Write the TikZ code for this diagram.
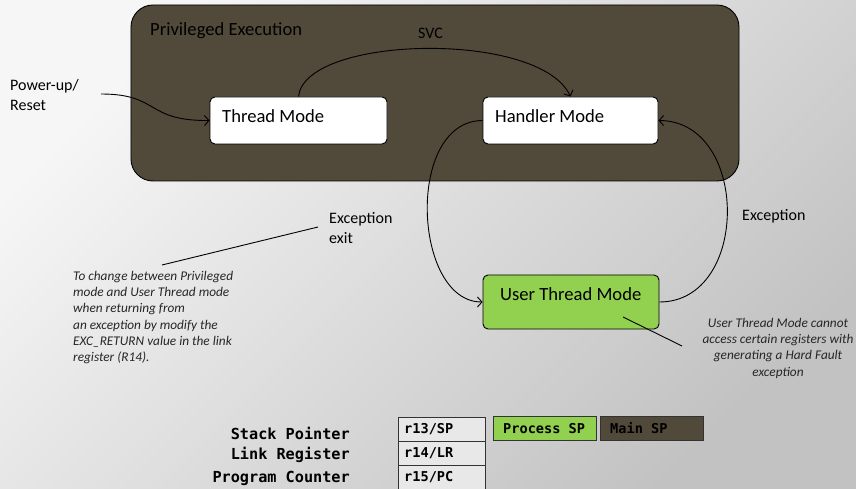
\documentclass[tikz,border=0pt]{standalone}
\usepackage{fontspec}
\setmainfont{Carlito}
\newfontfamily\regmono{DejaVu Sans Mono}
\usetikzlibrary{arrows.meta}

\definecolor{bgtop}{HTML}{F6F6F6}
\definecolor{bgbot}{HTML}{C2C2C2}
\definecolor{privfill}{HTML}{514A3A}
\definecolor{usergreen}{HTML}{92D050}
\definecolor{regfill}{HTML}{E8E8E8}

\tikzset{
  modebox/.style={draw=black, line width=0.9bp, rounded corners=5bp, fill=white, inner sep=0pt},
  modetext/.style={font=\fontsize{18.6bp}{22bp}\selectfont, inner sep=0pt, text=black},
  plaintext/.style={font=\fontsize{16bp}{19.5bp}\selectfont, inner sep=0pt, text=black},
  notetext/.style={font=\fontsize{13.3bp}{16.2bp}\selectfont\itshape, inner sep=0pt, text=black!85},
  conn/.style={draw=black, line width=0.9bp, -{Straight Barb[length=4.5bp,width=10bp]}},
  pointer/.style={draw=black, line width=0.9bp},
  reglabel/.style={font=\fontsize{15.2bp}{18bp}\selectfont\regmono\bfseries, inner sep=0pt, text=black},
  regbox/.style={draw=black!80, line width=0.9bp, fill=regfill, inner sep=0pt, minimum width=87bp, minimum height=24bp},
  regtext/.style={font=\fontsize{13.6bp}{16bp}\selectfont\regmono\bfseries, inner sep=0pt, text=black},
  spbox/.style={draw=black!80, line width=0.9bp, inner sep=0pt, minimum width=103bp, minimum height=24bp},
}

\begin{document}
\begin{tikzpicture}[x=1bp,y=-1bp]
  % canvas with a soft diagonal gradient
  \useasboundingbox (0,0) rectangle (856,489);
  \shade[top color=bgtop, bottom color=bgbot, shading angle=45] (0,0) rectangle (856,489);

  % privileged execution region
  \node[draw=black, line width=0.9bp, fill=privfill, rounded corners=22bp,
        minimum width=608bp, minimum height=176bp, inner sep=0pt] (priv) at (435,93) {};
  \node[modetext, anchor=west] (privlbl) at (150,31) {Privileged Execution};
  \node[plaintext, anchor=west] (svclbl) at (418,33) {SVC};

  % modes
  \node[modebox, minimum width=177bp, minimum height=47bp] (thread) at (298.5,120.5) {};
  \node[modetext, anchor=west] (threadlbl) at (222,116) {Thread Mode};
  \node[modebox, minimum width=175bp, minimum height=47bp] (handler) at (570.5,120.5) {};
  \node[modetext, anchor=west] (handlerlbl) at (495,116) {Handler Mode};
  \node[modebox, fill=usergreen, minimum width=176bp, minimum height=54bp] (user) at (571,302) {};
  \node[modetext, anchor=west] (userlbl) at (500,294) {User Thread Mode};

  % reset entry
  \node[plaintext, anchor=north west, align=left] (pwrlbl) at (10,79.4) {Power-up/\\Reset};
  \coordinate (pwr) at (101,94);
  \draw[conn] (pwr) .. controls (160,94) and (145,121) .. (thread.west);

  % transitions
  \draw[conn] (thread.north) .. controls (305,35) and (540,30) .. (handler.north);
  \draw[conn] (handler.west) .. controls (405,121) and (413,302) .. (user.west);
  \draw[conn] (user.east) .. controls (750,302) and (750,121) .. (handler.east);

  \node[plaintext, anchor=north west, align=left] (exitlbl) at (329,212.4) {Exception\\exit};
  \node[plaintext, anchor=west] (exclbl) at (742,216) {Exception};

  % annotations
  \coordinate (exitA) at (162,265);
  \coordinate (exitB) at (318,227);
  \draw[pointer] (exitA) -- (exitB);
  \node[notetext, anchor=north west, align=left] (leftnote) at (73,271) {To change between Privileged\\mode and User Thread mode\\when returning from\\an exception by modify the\\EXC\_RETURN value in the link\\register (R14).};

  \coordinate (userA) at (623,317);
  \coordinate (userB) at (682,346);
  \draw[pointer] (userA) -- (userB);
  \node[notetext, anchor=north, align=center] (rightnote) at (778,318) {User Thread Mode cannot\\access certain registers with\\generating a Hard Fault\\exception};

  % register bank
  \node[reglabel, anchor=east] (splbl) at (350,433) {Stack Pointer};
  \node[reglabel, anchor=east] (lrlbl) at (350,455) {Link Register};
  \node[reglabel, anchor=east] (pclbl) at (350,478) {Program Counter};

  \node[regbox] (r13) at (441.5,429) {};
  \node[regbox] (r14) at (441.5,453) {};
  \node[regbox] (r15) at (441.5,477) {};
  \node[regtext, anchor=west] (r13t) at (404,429) {r13/SP};
  \node[regtext, anchor=west] (r14t) at (404,453) {r14/LR};
  \node[regtext, anchor=west] (r15t) at (404,477) {r15/PC};

  \node[spbox, fill=usergreen] (psp) at (544.5,428.5) {};
  \node[regtext, anchor=west] (pspt) at (503,428.5) {Process SP};
  \node[spbox, fill=privfill] (msp) at (651.5,428.5) {};
  \node[regtext, anchor=west] (mspt) at (610,428.5) {Main SP};
\end{tikzpicture}
\end{document}
